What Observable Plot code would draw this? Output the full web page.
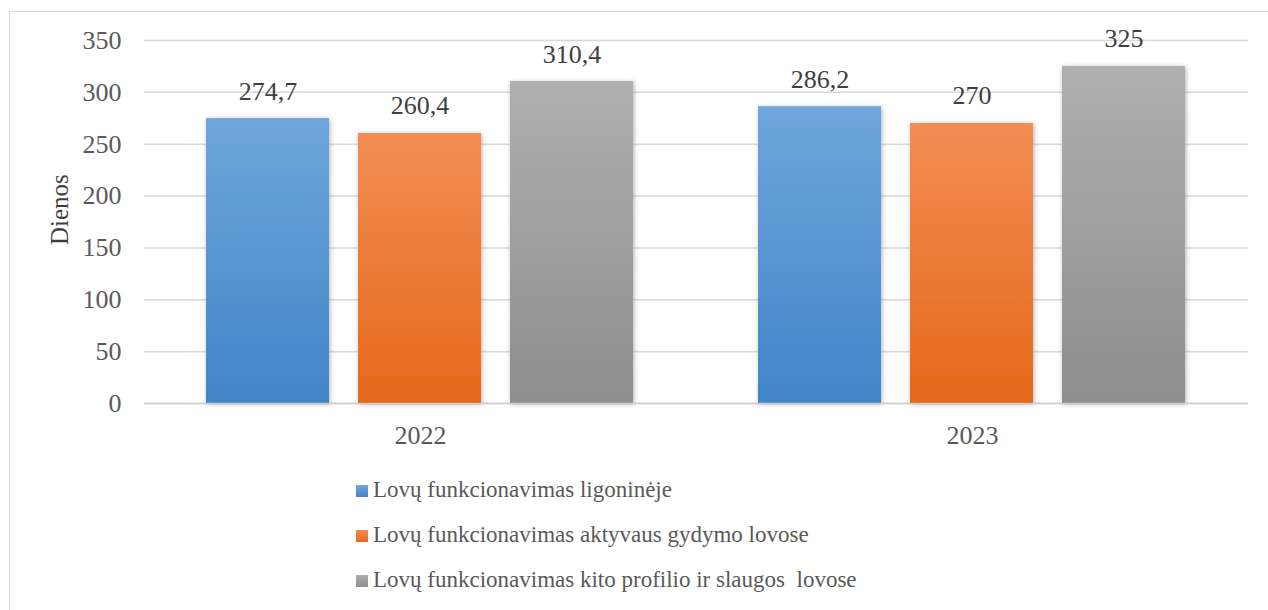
<!DOCTYPE html>
<html><head><meta charset="utf-8">
<script src="https://cdn.jsdelivr.net/npm/d3@7"></script>
<script src="https://cdn.jsdelivr.net/npm/@observablehq/plot@0.6"></script>
<style>
body{margin:0;background:#fff;width:1268px;height:610px;overflow:hidden;position:relative;font-family:"Liberation Serif",serif;}
#frame{position:absolute;left:9px;top:11px;width:1400px;height:700px;border-top:1.5px solid #d9d9d9;border-left:1.5px solid #d9d9d9;}
#chart{position:absolute;left:0;top:0;}
#legend{position:absolute;left:0;top:460px;}
svg text{font-family:"Liberation Serif",serif !important;}
</style></head><body>
<div id="frame"></div><div id="chart"></div><div id="legend"></div>
<script>
const years = ["2022", "2023"];
const series = [
  "Lovų funkcionavimas ligoninėje",
  "Lovų funkcionavimas aktyvaus gydymo lovose",
  "Lovų funkcionavimas kito profilio ir slaugos  lovose"
];
const values2022 = [274.7, 260.4, 310.4];
const values2023 = [286.2, 270, 325];
const yTicks = [0, 50, 100, 150, 200, 250, 300, 350];
const yLabel = "Dienos";

const topColors = ["#70a6dc", "#f28d54", "#afafaf"];
const bottomColors = ["#4185c7", "#e5691a", "#8e8e8e"];

const data = [];
years.forEach((yr, i) => {
  const vals = i === 0 ? values2022 : values2023;
  series.forEach((s, j) => data.push({year: yr, series: s, value: vals[j]}));
});
const fmt = v => String(v).replace(".", ",");
const FONT = "Liberation Serif, serif";

const chart = Plot.plot({
  width: 1268, height: 460,
  marginTop: 40, marginBottom: 57, marginLeft: 144, marginRight: 20,
  style: {fontFamily: FONT, fontSize: "26px", color: "#595959", background: "transparent", overflow: "visible"},
  fx: {domain: years, padding: 0, label: null},
  x: {domain: series, paddingInner: 0.19, paddingOuter: 0.4, axis: null},
  y: {domain: [0, 350], label: null},
  color: {domain: series, range: ["url(#g0)", "url(#g1)", "url(#g2)"]},
  marks: [
    Plot.gridY(yTicks, {stroke: "#d9d9d9", strokeWidth: 1.5, strokeOpacity: 1}),
    Plot.axisY(yTicks, {tickSize: 0, tickPadding: 23, label: null, fill: "#595959", fontFamily: FONT}),
    Plot.axisFx({anchor: "bottom", tickSize: 0, tickPadding: 22, label: null, fill: "#595959", fontFamily: FONT}),
    Plot.barY(data, {fx: "year", x: "series", y: "value", fill: "series"}),
    Plot.ruleY([0], {stroke: "#cccccc", strokeWidth: 1.5}),
    Plot.text(data, {fx: "year", x: "series", y: "value", text: d => fmt(d.value), dy: -19, lineAnchor: "bottom", fill: "#404040", fontFamily: FONT}),
    Plot.text([{year: years[0]}], {fx: "year", frameAnchor: "left", dx: -85, dy: 23, rotate: -90, text: () => yLabel, fill: "#404040", fontSize: 25, fontFamily: FONT})
  ]
});
document.getElementById("chart").appendChild(chart);

const svg = d3.select(chart);
const defs = svg.insert("defs", ":first-child");
topColors.forEach((c, i) => {
  const g = defs.append("linearGradient").attr("id", "g" + i).attr("x1", 0).attr("y1", 0).attr("x2", 0).attr("y2", 1);
  g.append("stop").attr("offset", "0%").attr("stop-color", c);
  g.append("stop").attr("offset", "100%").attr("stop-color", bottomColors[i]);
});
const f = defs.append("filter").attr("id", "shadow").attr("x", "-20%").attr("y", "-20%").attr("width", "140%").attr("height", "140%");
f.append("feDropShadow").attr("dx", 1).attr("dy", 1).attr("stdDeviation", 2.5).attr("flood-color", "#000").attr("flood-opacity", 0.3);
svg.selectAll("g[aria-label='bar'] rect").attr("filter", "url(#shadow)");

// legend
const leg = d3.select("#legend").append("svg").attr("width", 1268).attr("height", 150);
series.forEach((s, i) => {
  const base = 37 + i * 45;
  leg.append("rect").attr("x", 356).attr("y", base - 12).attr("width", 12).attr("height", 12).attr("fill", `url(#g${i})`);
  leg.append("text").attr("x", 373).attr("y", base).attr("font-size", 23).attr("font-family", FONT)
    .attr("fill", "#595959").style("white-space", "pre").text(s);
});
</script>
</body></html>
